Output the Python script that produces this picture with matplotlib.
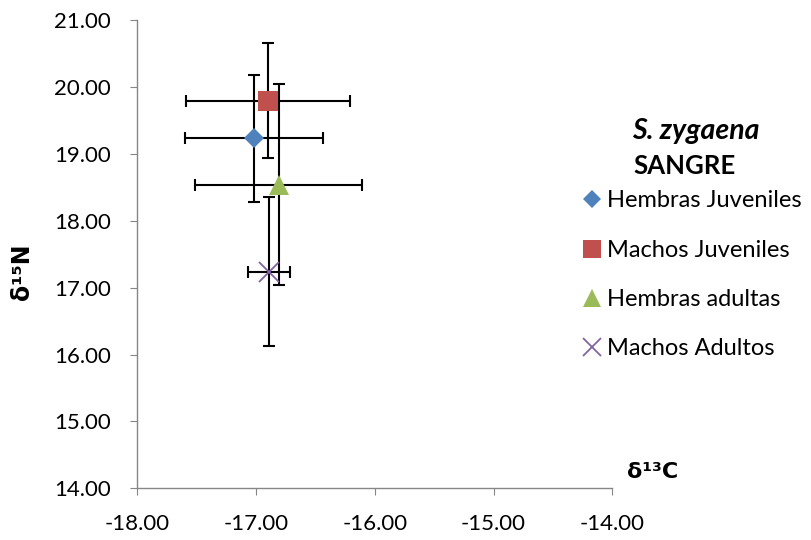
import matplotlib
matplotlib.use("Agg")
import matplotlib.pyplot as plt
from matplotlib.lines import Line2D

plt.rcParams['font.family'] = ['Lato', 'DejaVu Sans']

labels = ["Hembras Juveniles", "Machos Juveniles", "Hembras adultas", "Machos Adultos"]
d13c = [-17.02, -16.90, -16.81, -16.89]
d15n = [19.23, 19.79, 18.54, 17.24]
d13c_err = [0.58, 0.69, 0.70, 0.18]
d15n_err = [0.95, 0.86, 1.50, 1.11]
colors = ["#4F81BD", "#C0504D", "#9BBB59", "#8064A2"]
markers = ["D", "s", "^", "x"]
msizes = [10.2, 14.5, 15, 14]
leg_sizes = [9.2, 13, 13, 12.5]

xticks = [-18, -17, -16, -15, -14]
yticks = [14, 15, 16, 17, 18, 19, 20, 21]

fig = plt.figure(figsize=(8.12, 5.4), dpi=100)
ax = fig.add_axes([137.3 / 812, 1 - 488.3 / 540, 475 / 812, 468.3 / 540])

for i in range(len(labels)):
    ax.errorbar(d13c[i], d15n[i], xerr=d13c_err[i], yerr=d15n_err[i], fmt='none',
                ecolor='black', elinewidth=1.5, capsize=4.2, capthick=1.5, zorder=2)
handles = []
for i in range(len(labels)):
    if markers[i] == 'x':
        ax.plot(d13c[i], d15n[i], linestyle='none', marker='x', markersize=msizes[i],
                color=colors[i], markeredgewidth=1.3, zorder=4)
        h = Line2D([], [], linestyle='none', marker='x', markersize=leg_sizes[i],
                   color=colors[i], markeredgewidth=1.3)
    else:
        ax.plot(d13c[i], d15n[i], linestyle='none', marker=markers[i], markersize=msizes[i],
                color=colors[i], markeredgewidth=0, zorder=4)
        h = Line2D([], [], linestyle='none', marker=markers[i], markersize=leg_sizes[i],
                   color=colors[i], markeredgewidth=0)
    handles.append(h)

ax.set_xlim(-18, -14)
ax.set_ylim(14, 21)
ax.set_xticks(xticks)
ax.set_yticks(yticks)
ax.set_xticklabels([f"{v:.2f}" for v in xticks])
ax.set_yticklabels([f"{v:.2f}" for v in yticks])
for s in ['top', 'right']:
    ax.spines[s].set_visible(False)
for s in ['left', 'bottom']:
    ax.spines[s].set_color('#868686')
    ax.spines[s].set_linewidth(1.0)
ax.tick_params(axis='both', direction='out', length=5.3, color='#868686', labelsize=16,
               labelcolor='black')
ax.tick_params(axis='x', pad=13)
ax.tick_params(axis='y', pad=13.5)

fig.text(22 / 812, 1 - 272 / 540, "δ¹⁵N", rotation=90, ha='center', va='center',
         fontsize=17, fontweight='bold',
         family=['Liberation Sans Narrow', 'DejaVu Sans Condensed', 'DejaVu Sans'])
fig.text(627 / 812, 1 - 472 / 540, "δ¹³C", ha='left', va='center',
         fontsize=16, fontweight='bold',
         family=['Liberation Sans Narrow', 'DejaVu Sans Condensed', 'DejaVu Sans'])

fig.text(632 / 812, 1 - 139 / 540, "S. zygaena", ha='left', va='baseline',
         fontsize=20.5, fontweight='bold', style='italic')
fig.text(633 / 812, 1 - 174 / 540, "SANGRE", ha='left', va='baseline',
         fontsize=18.5, fontweight='bold')

fig.legend(handles, labels, loc='upper left', bbox_to_anchor=(572.8 / 812, 1 - 181 / 540),
           frameon=False, fontsize=17, handlelength=0.8, handletextpad=0.25,
           labelspacing=1.2, borderaxespad=0)

fig.savefig("out.png", dpi=100)
